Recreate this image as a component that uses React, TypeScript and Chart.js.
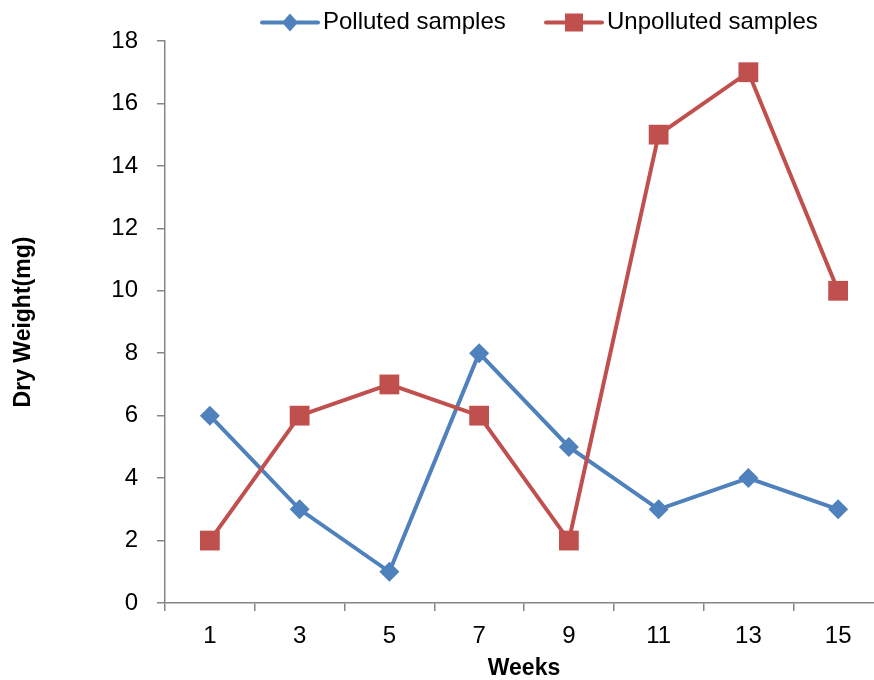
import React, { useEffect, useRef } from "react";
import { Chart, registerables } from "chart.js";

Chart.register(...registerables);

const weeks = ["1", "3", "5", "7", "9", "11", "13", "15"];
const polluted = [6, 3, 1, 8, 5, 3, 4, 3];
const unpolluted = [2, 6, 7, 6, 2, 15, 17, 10];
const seriesNames = ["Polluted samples", "Unpolluted samples"];
const yTitle = "Dry Weight(mg)";
const xTitle = "Weeks";

const BLUE = "#4F81BD";
const RED = "#C0504D";
const AXIS = "#868686";
const FONT = "'Liberation Sans', Arial, sans-serif";

const legendPlugin = {
  id: "customLegend",
  afterDraw(chart: any) {
    const ctx = chart.ctx;
    const y = 22.5;
    const items = [
      { x: 262, color: BLUE, shape: "diamond", text: seriesNames[0] },
      { x: 546, color: RED, shape: "square", text: seriesNames[1] },
    ];
    ctx.save();
    for (const it of items) {
      ctx.strokeStyle = it.color;
      ctx.lineWidth = 4;
      ctx.lineCap = "round";
      ctx.beginPath();
      ctx.moveTo(it.x, y);
      ctx.lineTo(it.x + 56, y);
      ctx.stroke();
      const cx = it.x + 28;
      ctx.fillStyle = it.color;
      ctx.beginPath();
      if (it.shape === "diamond") {
        ctx.moveTo(cx, y - 9);
        ctx.lineTo(cx + 8, y);
        ctx.lineTo(cx, y + 9);
        ctx.lineTo(cx - 8, y);
        ctx.closePath();
      } else {
        ctx.rect(cx - 9, y - 9, 18, 18);
      }
      ctx.fill();
      ctx.fillStyle = "#000000";
      ctx.font = `24px ${FONT}`;
      ctx.textAlign = "left";
      ctx.textBaseline = "middle";
      ctx.fillText(it.text, it.x + 61, y);
    }
    ctx.restore();
  },
};

export default function App() {
  const ref = useRef<HTMLCanvasElement>(null);
  useEffect(() => {
    const chart = new Chart(ref.current!, {
      type: "line",
      data: {
        labels: weeks,
        datasets: [
          {
            label: seriesNames[0],
            data: polluted,
            borderColor: BLUE,
            backgroundColor: BLUE,
            borderWidth: 4,
            pointStyle: "rectRot",
            pointRadius: 10,
            pointBorderWidth: 0,
            pointBackgroundColor: BLUE,
            tension: 0,
            order: 2,
          },
          {
            label: seriesNames[1],
            data: unpolluted,
            borderColor: RED,
            backgroundColor: RED,
            borderWidth: 4,
            pointStyle: "rect",
            pointRadius: 14,
            pointBorderWidth: 0,
            pointBackgroundColor: RED,
            tension: 0,
            order: 1,
          },
        ],
      },
      options: {
        animation: false,
        responsive: false,
        maintainAspectRatio: false,
        layout: { autoPadding: false, padding: { top: 41, right: 1, bottom: 0, left: 0 } },
        plugins: {
          legend: { display: false },
          tooltip: { enabled: false },
        },
        scales: {
          x: {
            type: "category",
            offset: true,
            afterFit(scale: any) {
              scale.height = 77;
              scale.paddingLeft = 0;
              scale.paddingRight = 0;
            },
            grid: {
              offset: true,
              drawOnChartArea: false,
              drawTicks: true,
              tickLength: 8,
              color: AXIS,
              lineWidth: 1.5,
            },
            border: { color: AXIS, width: 1.5 },
            ticks: {
              color: "#000000",
              padding: 11,
              font: { family: FONT, size: 24 },
              maxRotation: 0,
            },
            title: {
              display: true,
              text: xTitle,
              color: "#000000",
              font: { family: FONT, size: 23, weight: "bold" },
              padding: { top: 0, bottom: -2 },
            },
          },
          y: {
            min: 0,
            max: 18,
            afterFit(scale: any) {
              scale.width = 165;
            },
            grid: {
              drawOnChartArea: false,
              drawTicks: true,
              tickLength: 8,
              color: AXIS,
              lineWidth: 1.5,
            },
            border: { color: AXIS, width: 1.5 },
            ticks: {
              stepSize: 2,
              color: "#000000",
              padding: 19,
              font: { family: FONT, size: 24 },
            },
            title: {
              display: true,
              text: yTitle,
              color: "#000000",
              font: { family: FONT, size: 23, weight: "bold" },
              padding: { top: 10, bottom: 0 },
            },
          },
        },
      },
      plugins: [legendPlugin],
    });
    return () => chart.destroy();
  }, []);

  return (
    <div
      style={{
        position: "fixed",
        left: 0,
        top: 0,
        width: 874,
        height: 680,
        overflow: "hidden",
        background: "#ffffff",
      }}
    >
      <canvas ref={ref} width={884} height={680} style={{ display: "block", width: 884, height: 680 }} />
    </div>
  );
}
